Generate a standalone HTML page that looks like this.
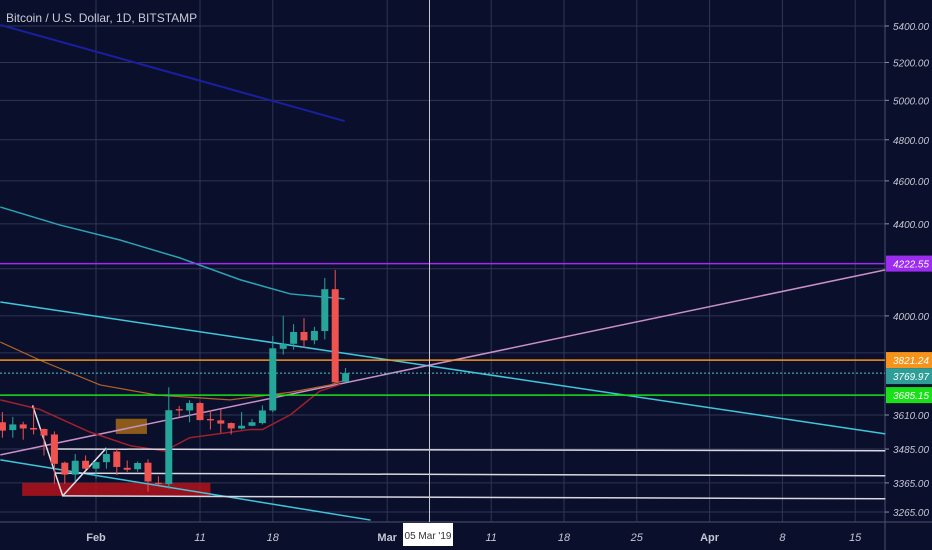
<!DOCTYPE html>
<html><head><meta charset="utf-8"><style>
html,body{margin:0;padding:0;background:#0a0f2c;}
svg{display:block;font-family:"Liberation Sans",sans-serif;}
</style></head><body>
<svg id="chart" width="932" height="550" viewBox="0 0 932 550">
<rect x="0" y="0" width="932" height="550" fill="#0a0f2c"/>
<g id="grid"></g>
<g id="drawings"></g>
<g id="candles"></g>
<g id="axis"></g>
<text x="6" y="22" fill="#c9cbd6" font-size="12">Bitcoin / U.S. Dollar, 1D, BITSTAMP</text>
</svg>
<script>
// ---- data ----
const candleDays = [-9,-8,-7,-6,-5,-4,-3,-2,-1,0,1,2,3,4,5,6,7,8,9,10,11,12,13,14,15,16,17,18,19,20,21,22,23,24];
const opens  = [3583,3554,3575,3562,3558,3538,3436,3394,3443,3415,3438,3476,3418,3413,3436,3365,3361,3632,3627,3655,3595,3590,3580,3560,3570,3580,3627,3866,3886,3934,3900,3938,4112,3736];
const highs  = [3621,3603,3585,3646,3560,3549,3440,3467,3462,3440,3488,3485,3444,3440,3448,3388,3715,3644,3666,3660,3627,3632,3582,3621,3595,3646,3918,4000,3966,3991,3955,4160,4195,3790];
const lows   = [3526,3526,3519,3538,3462,3362,3362,3370,3412,3380,3415,3392,3404,3404,3335,3357,3345,3601,3583,3590,3556,3544,3538,3556,3568,3575,3621,3843,3863,3870,3884,3904,3734,3734];
const closes = [3552,3575,3560,3556,3534,3432,3394,3443,3415,3438,3467,3421,3411,3435,3370,3361,3628,3627,3655,3591,3590,3578,3560,3570,3583,3627,3868,3886,3934,3900,3938,4112,3734,3770];
const priceTicks = [5400,5200,5000,4800,4600,4400,4000,3610,3485,3365,3265];
const gridPrices = [5400,5200,5000,4800,4600,4400,4200,4000,3850,3610,3485,3365,3265];
const timeLabels = ["Feb","11","18","Mar","11","18","25","Apr","8","15"];
const timeDays   = [0,10,17,28,38,45,52,59,66,73];
const levelPrices = [4222.55,3821.24,3769.97,3685.15];
const levelLabels = ["4222.55","3821.24","3769.97","3685.15"];
const tealMA = [[-9.2,4477],[-3.5,4395],[2.3,4327],[8.1,4247],[13.9,4152],[18.7,4092],[23.9,4071]];
const orangeMA = [[-9.2,3893],[-5.4,3821],[0.4,3724],[5.9,3685],[12.9,3667],[18.7,3696],[22.5,3724],[23.9,3742]];
const redMA = [[-9.2,3667],[-5.4,3631],[-0.6,3547],[3.3,3497],[6.6,3478],[9.0,3526],[14.8,3556],[16,3556],[18.7,3611],[21.5,3700],[23.5,3726]];
const blueLine = [[-9.2,5406],[23.9,4894]];
const cyanLine = [[-9.2,4058],[75.9,3540]];
const cyanLow = [[-9.2,3446],[26.4,3238]];
const pinkLine = [[-9.2,3464],[75.9,4195]];
const zigzag = [[-6.1,3646],[-3.2,3320],[1.0,3489]];
const whiteLines = [[[-4,3485],[75.9,3479]],[[-4,3399],[75.9,3390]],[[-3.2,3320],[75.9,3310]]];

// ---- scales ----
const AX = 885;
function X(d){ return 96 + d*10.4; }
function Y(p){ return 26 + (Math.log(5400) - Math.log(p))*966; }
const NS="http://www.w3.org/2000/svg";
function mk(tag, attrs, parent){ const e=document.createElementNS(NS,tag); for(const k in attrs) e.setAttribute(k,attrs[k]); parent.appendChild(e); return e; }
const grid=document.getElementById('grid'), dr=document.getElementById('drawings'), cg=document.getElementById('candles'), ax=document.getElementById('axis');

gridPrices.forEach(p=>{
  const l=mk('line',{x1:0,x2:AX,y1:Y(p),y2:Y(p),stroke:'#2f3552','stroke-width':1},grid);
  
  
});
timeDays.forEach(d=>{
  const l=mk('line',{x1:X(d),x2:X(d),y1:0,y2:522,stroke:'#2f3552','stroke-width':1},grid);
  
  
});
mk('line',{x1:0,x2:932,y1:522,y2:522,stroke:'#4a5070'},grid);
mk('line',{x1:AX,x2:AX,y1:0,y2:550,stroke:'#4a5070'},grid);

function poly(pts, color, w, name, dash){
  const e=mk('polyline',{points:pts.map(q=>X(q[0])+','+Y(q[1])).join(' '),fill:'none',stroke:color,'stroke-width':w,'stroke-linejoin':'round'},dr);
  if(dash) e.setAttribute('stroke-dasharray',dash);
  
  
  return e;
}
const r1=mk('rect',{x:X(-7.1),y:Y(3365),width:X(11)-X(-7.1),height:Y(3320)-Y(3365),fill:'#b3121b',opacity:0.85},dr);


const r2=mk('rect',{x:X(1.9),y:Y(3596),width:X(4.9)-X(1.9),height:Y(3540)-Y(3596),fill:'#9a6418',opacity:0.9},dr);



poly(blueLine,'#1a1fa0',2,'blue-trendline');
poly(tealMA,'#2aa4b4',1.5,'teal-moving-average');
poly(cyanLine,'#3fc6dc',1.5,'cyan-trendline');
poly(cyanLow,'#3fc6dc',1.5,'cyan-lower-trendline');
poly(pinkLine,'#c890c8',1.5,'pink-trendline');
poly(orangeMA,'#b0642a',1.2,'orange-moving-average');
poly(redMA,'#a0202c',1.5,'red-moving-average');
poly(zigzag,'#e0e0ea',1.5,'zigzag-pattern');
whiteLines.forEach(w=>poly(w,'#d8d8e0',1.5,'white-support-line'));

const levelColors=['#9b2cf0','#f7931a','#4cc3c0','#19e019'];
levelPrices.forEach((p,i)=>{
  const l=mk('line',{x1:0,x2:AX,y1:Y(p),y2:Y(p),stroke:levelColors[i],'stroke-width':i==2?1:1.5},dr);
  if(i==2) l.setAttribute('stroke-dasharray','2,2');
  
  
});

candleDays.forEach((d,i)=>{
  const up = closes[i]>=opens[i];
  const col = up ? '#26a69a' : '#ef5350';
  const cx=X(d);
  const w=mk('line',{x1:cx,x2:cx,y1:Y(highs[i]),y2:Y(lows[i]),stroke:col,'stroke-width':1},cg);
  
  
  const top=Y(Math.max(opens[i],closes[i])), bot=Y(Math.min(opens[i],closes[i]));
  const b=mk('rect',{x:cx-3.5,y:top,width:7,height:Math.max(1,bot-top),fill:col},cg);
  
  
});

const ch=mk('line',{x1:429.5,x2:429.5,y1:0,y2:522,stroke:'#c8c8d4','stroke-width':1},dr);



priceTicks.forEach(p=>{
  mk('line',{x1:AX,x2:AX+4,y1:Y(p),y2:Y(p),stroke:'#8a8ea8'},ax);
  const t=mk('text',{x:AX+8,y:Y(p)+4,fill:'#c4c6d4','font-size':'10','font-style':'italic',textLength:'36',lengthAdjust:'spacingAndGlyphs'},ax);
  t.textContent=p.toFixed(2);
  
  
});
const boxFill=['#9b2cf0','#f7931a','#2f9e98','#19e019'];
const boxY=[Y(4222.55),Y(3821.24),Y(3769.97)+3,Y(3685.15)];
levelLabels.forEach((s,i)=>{
  const r=mk('rect',{x:AX+1,y:boxY[i]-8,width:46,height:16,fill:boxFill[i]},ax);
  
  
  const t=mk('text',{x:AX+8,y:boxY[i]+4,fill:'#ffffff','font-size':'10','font-style':'italic',textLength:'36',lengthAdjust:'spacingAndGlyphs'},ax);
  t.textContent=s;
  
  
});

timeLabels.forEach((s,i)=>{
  const bold=isNaN(+s);
  const t=mk('text',{x:X(timeDays[i]),y:541,fill:'#c4c6d4','font-size':'11','text-anchor':'middle','font-weight':bold?'bold':'normal','font-style':bold?'normal':'italic'},ax);
  t.textContent=s;
  
  
});
const db=mk('rect',{x:403,y:523,width:50,height:23,fill:'#ffffff'},ax);


const dt=mk('text',{x:428,y:539,fill:'#333','font-size':'10','text-anchor':'middle'},ax);
dt.textContent="05 Mar '19";


</script>
</body></html>
